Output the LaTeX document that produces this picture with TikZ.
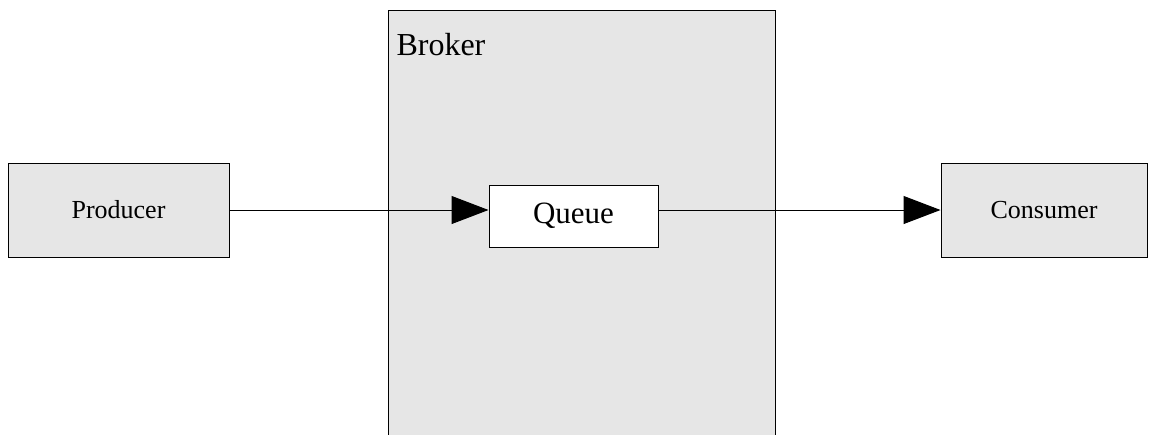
\documentclass[tikz,border=0pt]{standalone}
\usepackage{fontspec}
\setmainfont{Liberation Serif}
\usepackage{xcolor}
\usepackage{tikz}
\usetikzlibrary{arrows.meta,positioning}

\definecolor{boxgray}{HTML}{E6E6E6}

\begin{document}
\begin{tikzpicture}[
  x=0.5pt, y=-0.5pt,
  line width=0.5pt,
  box/.style={draw, fill=boxgray, align=center, inner sep=2pt, minimum width=110.5pt, minimum height=47pt, font=\fontsize{13}{15}\selectfont},
  queuebox/.style={draw, fill=white, align=center, inner sep=2pt, minimum width=84.5pt, minimum height=31pt, font=\fontsize{15.5}{18}\selectfont},
  flow/.style={-{Triangle[length=18.5pt,width=14pt]}}
]
\useasboundingbox (0,0) rectangle (1154,434);
% broker runs off the bottom edge
\draw[fill=boxgray] (388,10) rectangle (775,450);
\node[anchor=base west, inner sep=0pt, font=\fontsize{16}{19}\selectfont] (brokerlabel) at (396,55) {Broker};
\node[queuebox] (queue) at (573.5,216) {Queue};
\node[box] (prod) at (118.5,210) {Producer};
\node[box, minimum width=103pt] (cons) at (1044,210) {Consumer};
\draw[flow] (prod.east) -- (queue.west |- prod.east);
\draw[flow] (queue.east |- prod.east) -- (cons.west);
\end{tikzpicture}
\end{document}
